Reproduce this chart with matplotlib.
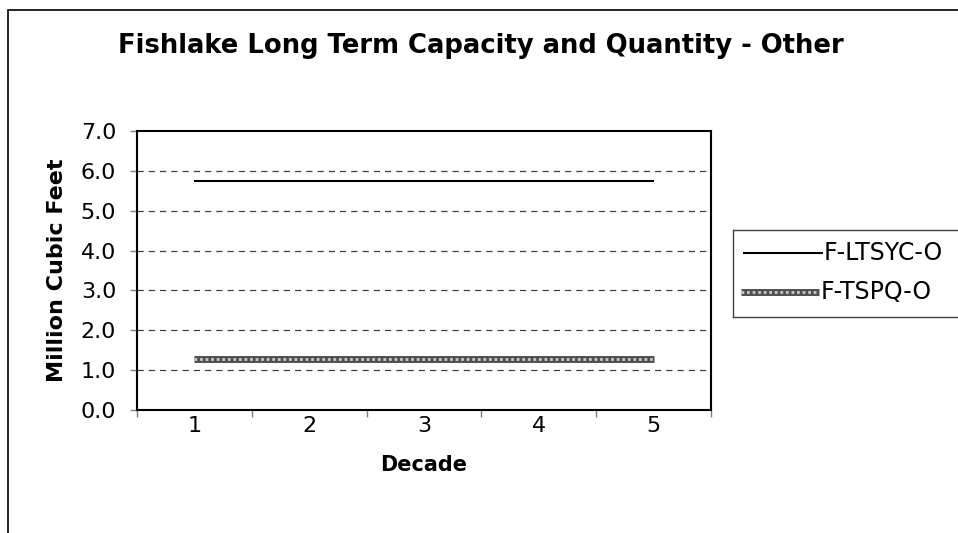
import matplotlib.pyplot as plt
from matplotlib.patches import Rectangle

decades = [1, 2, 3, 4, 5]
ltsyc = [5.75, 5.75, 5.75, 5.75, 5.75]
tspq = [1.27, 1.27, 1.27, 1.27, 1.27]
series_names = ["F-LTSYC-O", "F-TSPQ-O"]
title = "Fishlake Long Term Capacity and Quantity - Other"

plt.rcParams['font.family'] = ['DejaVu Sans']

fig = plt.figure(figsize=(9.58, 5.33), dpi=100)
# outer chart frame (right/bottom cut off in the reference)
fig.patches.append(Rectangle((8 / 958, -0.1), 1.2, 1.1 - 10 / 533,
                             transform=fig.transFigure, fill=False,
                             edgecolor='black', lw=1.2))

ax = fig.add_axes([137 / 958, 1 - 410 / 533, (711 - 137) / 958, (410 - 131) / 533])

ax.plot(decades, ltsyc, color='black', lw=1.5, solid_capstyle='butt')
# patterned thick line: dark band with light dotted overlay
ax.plot(decades, tspq, color='#505050', lw=5, solid_capstyle='butt')
ax.plot(decades, tspq, color='#c8c8c8', lw=2, ls=(0, (1, 1)), dash_capstyle='butt')

ax.set_xlim(0.5, 5.5)
ax.set_ylim(0, 7)
ax.set_yticks([i * 1.0 for i in range(8)])
ax.set_yticklabels([f"{i:.1f}" for i in range(8)])
ax.set_xticks(decades)
ax.set_xticks([0.5, 1.5, 2.5, 3.5, 4.5, 5.5], minor=True)
ax.tick_params(axis='x', which='major', length=0, labelsize=16, pad=4)
ax.tick_params(axis='x', which='minor', length=5, width=1, color='#808080')
ax.tick_params(axis='y', length=5, width=1, color='#808080', labelsize=16, pad=10)

for v in range(1, 7):
    ax.axhline(v, color='#404040', lw=0.9, ls=(0, (5, 4)), zorder=0)

for s in ax.spines.values():
    s.set_color('black')
    s.set_linewidth(1.5)

ax.set_xlabel("Decade", fontsize=15, fontweight='bold', labelpad=14)
ax.set_ylabel("Million Cubic Feet", fontsize=16, fontweight='bold', labelpad=10)

fig.text(481 / 958, 1 - 46 / 533, title,
         ha='center', va='center', fontsize=18.6, fontweight='bold')

# legend, axes coordinates in pixels
lax = fig.add_axes([733 / 958, 1 - 317 / 533, 1, (317 - 230) / 533])
lax.set_xlim(0, 958)
lax.set_ylim(317, 230)
lax.set_xticks([])
lax.set_yticks([])
for s in lax.spines.values():
    s.set_color('#404040')
    s.set_linewidth(1)
lax.plot([10, 90], [253, 253], color='black', lw=1.5, solid_capstyle='butt')
lax.plot([8, 86], [292, 292], color='#505050', lw=5, solid_capstyle='butt')
lax.plot([8, 86], [292, 292], color='#c8c8c8', lw=2, ls=(0, (1, 1)),
         dash_capstyle='butt')
lax.text(91, 253, series_names[0], fontsize=17, va='center', ha='left')
lax.text(88, 292, series_names[1], fontsize=17, va='center', ha='left')

fig.savefig("out.png", dpi=100)
